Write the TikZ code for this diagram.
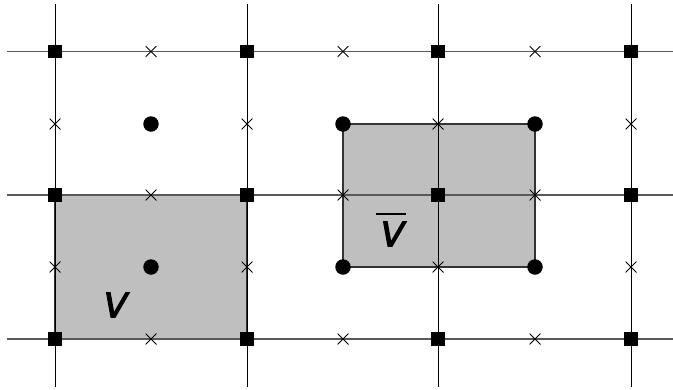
\documentclass[tikz,border=0pt]{standalone}
\usepackage{fontspec}
\setsansfont{DejaVu Sans}
\newfontfamily\labfont[FakeBold=3.5,FakeSlant=0.2]{DejaVu Sans}
\begin{document}
\begin{tikzpicture}[x=1pt,y=-1pt,
  hline/.style={draw=black!65,line width=1.1pt},
  vline/.style={draw=black,line width=1pt},
  cell/.style={fill=black!25,draw=black!80,line width=1.1pt},
  sq/.style={fill=black,inner sep=0pt,minimum size=13.5pt,draw=none},
  dot/.style={circle,fill=black,inner sep=0pt,minimum size=15.5pt},
  crs/.style={inner sep=0pt,minimum size=11pt,draw=none,path picture={
     \draw[black,line width=0.8pt] (path picture bounding box.north west)--(path picture bounding box.south east)
       (path picture bounding box.north east)--(path picture bounding box.south west);}},
  lab/.style={font=\labfont\fontsize{34}{34}\selectfont,inner sep=0pt}
]
\useasboundingbox (0,0) rectangle (673,389);
% shaded cells
\path[cell] (55,195) rectangle (247,339);
\path[cell] (343,124) rectangle (535,267);
% grid lines
\foreach \y in {51.5,195,339} \draw[hline] (7,\y) -- (673,\y);
\foreach \x in {55,247,438,631} \draw[vline] (\x,4) -- (\x,387);
% square markers
\foreach \x [count=\i] in {55,247,438,631}
  \foreach \y [count=\j] in {51.5,195,339}
    \node[sq] (s\i\j) at (\x,\y) {};
% crosses on horizontal lines
\foreach \x [count=\i] in {151,343,535}
  \foreach \y [count=\j] in {51.5,195,339}
    \node[crs] (h\i\j) at (\x,\y) {};
% crosses on vertical lines
\foreach \x [count=\i] in {55,247,438,631}
  \foreach \y [count=\j] in {124,267}
    \node[crs] (v\i\j) at (\x,\y) {};
% dots
\node[dot] (d1) at (151,124) {};
\node[dot] (d2) at (151,267) {};
\node[dot] (d3) at (343,124) {};
\node[dot] (d4) at (535,124) {};
\node[dot] (d5) at (343,267) {};
\node[dot] (d6) at (535,267) {};
% labels
\node[lab] (V) at (113,305) {V};
\node[lab] (Vb) at (390,234) {V};
\coordinate (ol1) at (376,214);
\coordinate (ol2) at (406,214);
\draw[line width=1.2pt] (ol1) -- (ol2);
\end{tikzpicture}
\end{document}
